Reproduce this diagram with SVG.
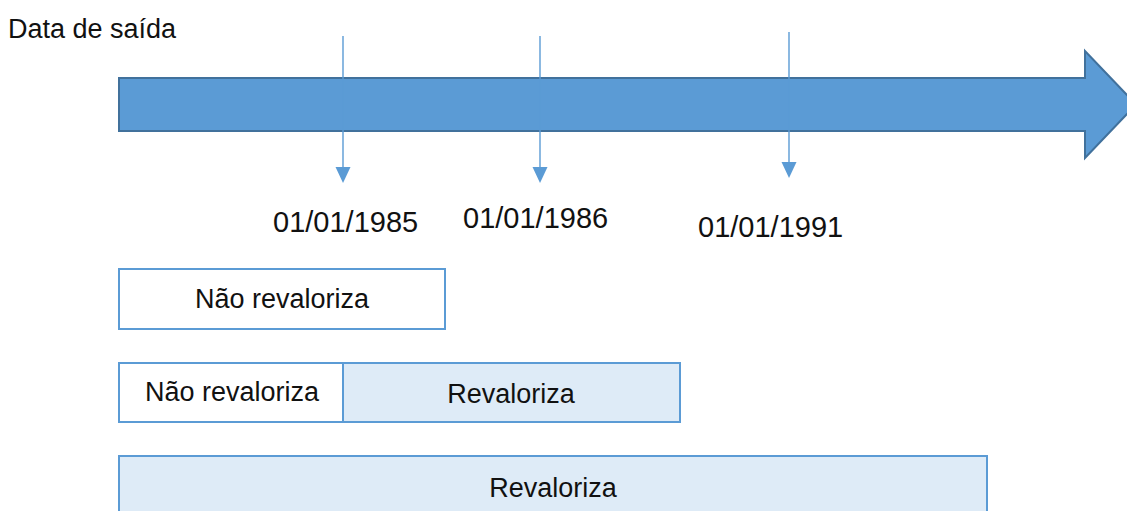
<svg xmlns="http://www.w3.org/2000/svg" width="1127" height="511" viewBox="0 0 1127 511">
<style>
text{font-family:"Liberation Sans",Arial,sans-serif;fill:#111}
.box{stroke:#5B9BD5;stroke-width:2}
.w{fill:#fff}
.lb{fill:#DEEBF7}
.tick{stroke:#5B9BD5;stroke-width:1.4;fill:none}
.head{fill:#5B9BD5}
</style>
<rect width="1127" height="511" fill="#fff"/>
<g id="title"><text x="8" y="38" font-size="27">Data de saída</text></g>
<g id="timeline">
<path d="M119,78 L1085,78 L1085,51 L1136,104.5 L1085,158 L1085,131 L119,131 Z" fill="#5B9BD5" stroke="#41719C" stroke-width="2"/>
</g>
<g id="connectors">
<line class="tick" x1="343" y1="36" x2="343" y2="170"/>
<path class="head" d="M335.5,167 L350.5,167 L343,183 Z"/>
<line class="tick" x1="540" y1="36" x2="540" y2="170"/>
<path class="head" d="M532.5,167 L547.5,167 L540,183 Z"/>
<line class="tick" x1="789" y1="32" x2="789" y2="165"/>
<path class="head" d="M781.5,162 L796.5,162 L789,178 Z"/>
</g>
<g id="dates" font-size="29">
<text x="273" y="232">01/01/1985</text>
<text x="463" y="228">01/01/1986</text>
<text x="698" y="237">01/01/1991</text>
</g>
<g id="row1">
<rect class="box w" x="119" y="269" width="326" height="60"/>
<text x="282" y="308" font-size="27" text-anchor="middle">Não revaloriza</text>
</g>
<g id="row2">
<rect class="box w" x="119" y="363" width="224" height="59"/>
<rect class="box lb" x="343" y="363" width="337" height="59"/>
<text x="232" y="401" font-size="27" text-anchor="middle">Não revaloriza</text>
<text x="511" y="403" font-size="27" text-anchor="middle">Revaloriza</text>
</g>
<g id="row3">
<rect class="box lb" x="119" y="456" width="868" height="70"/>
<text x="553" y="497" font-size="27" text-anchor="middle">Revaloriza</text>
</g>
</svg>
